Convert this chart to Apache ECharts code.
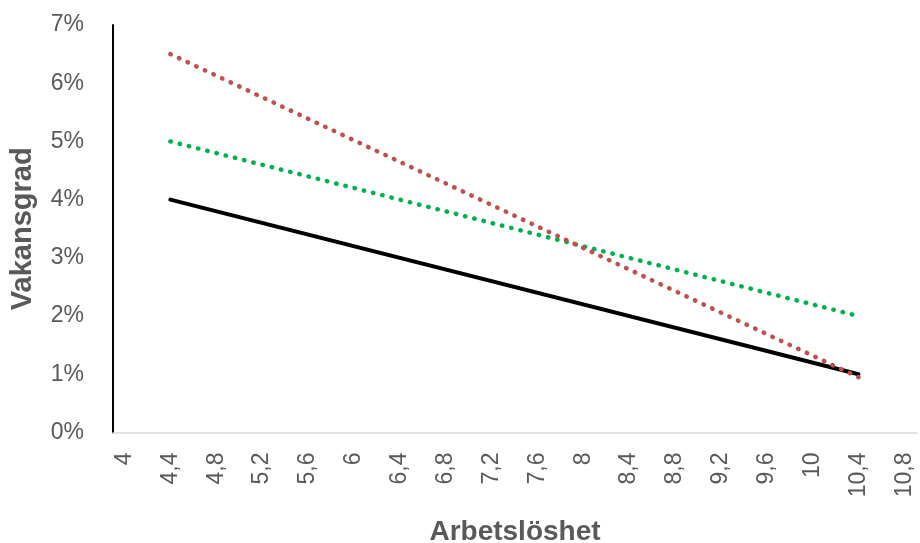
<!DOCTYPE html>
<html>
<head>
<meta charset="utf-8">
<script src="https://cdn.jsdelivr.net/npm/echarts@6/dist/echarts.min.js"></script>
<style>
  html, body { margin: 0; padding: 0; background: #fff; }
  #chart { width: 920px; height: 543px; }
</style>
</head>
<body>
<div id="chart"></div>
<script>
// Arbetslöshet (x) mot vakansgrad (y): tre Beveridgekurvor
var xTicks = [4, 4.4, 4.8, 5.2, 5.6, 6, 6.4, 6.8, 7.2, 7.6, 8, 8.4, 8.8, 9.2, 9.6, 10, 10.4, 10.8];
var unemployment = [4.4, 10.4];
var vacancyBase = [0.04, 0.01];    // svart, heldragen
var vacancyGreen = [0.05, 0.02];   // grön, prickad
var vacancyRed = [0.065, 0.0095];  // röd, prickad

function pairs(xs, ys) {
  return xs.map(function (x, i) { return [x, ys[i]]; });
}

var labelFont = '"Liberation Sans", Arial, sans-serif';
var titleFont = '"Liberation Sans", Arial, sans-serif';
var dots = [0.5, 9];

var chart = echarts.init(document.getElementById('chart'), null, { renderer: 'canvas' });
chart.setOption({
  animation: false,
  backgroundColor: '#ffffff',
  grid: { left: 113, right: 3, top: 25, bottom: 110.5, containLabel: false, outerBoundsMode: 'none' },
  xAxis: {
    type: 'value',
    min: 3.9,
    max: 10.91,
    name: 'Arbetslöshet',
    nameLocation: 'middle',
    nameGap: 86,
    nameTextStyle: { fontFamily: titleFont, fontSize: 28, fontWeight: 'bold', color: '#595959' },
    axisLine: { show: true, onZero: false, lineStyle: { color: '#d9d9d9', width: 1.5 } },
    axisTick: { show: false },
    splitLine: { show: false },
    axisLabel: {
      customValues: xTicks,
      rotate: 90,
      margin: 20,
      fontFamily: labelFont,
      fontSize: 23,
      color: '#595959',
      formatter: function (v) { return String(v).replace('.', ','); }
    }
  },
  yAxis: {
    type: 'value',
    min: 0,
    max: 0.07,
    interval: 0.01,
    name: 'Vakansgrad',
    nameLocation: 'middle',
    nameGap: 76,
    nameTextStyle: { fontFamily: titleFont, fontSize: 29, fontWeight: 'bold', color: '#595959' },
    axisLine: { show: true, lineStyle: { color: '#000000', width: 2 } },
    axisTick: { show: false },
    splitLine: { show: false },
    axisLabel: {
      margin: 29,
      fontFamily: labelFont,
      fontSize: 23,
      color: '#595959',
      formatter: function (v) { return Math.round(v * 100) + '%'; }
    }
  },
  series: [
    {
      type: 'line',
      data: pairs(unemployment, vacancyBase),
      showSymbol: false,
      lineStyle: { color: '#000000', width: 4, cap: 'round' },
      z: 2
    },
    {
      type: 'line',
      data: pairs(unemployment, vacancyGreen),
      showSymbol: false,
      lineStyle: { color: '#00B050', width: 4.5, type: dots, cap: 'round' },
      z: 3
    },
    {
      type: 'line',
      data: pairs(unemployment, vacancyRed),
      showSymbol: false,
      lineStyle: { color: '#C0504D', width: 4.5, type: dots, cap: 'round' },
      z: 4
    }
  ]
});
</script>
</body>
</html>
